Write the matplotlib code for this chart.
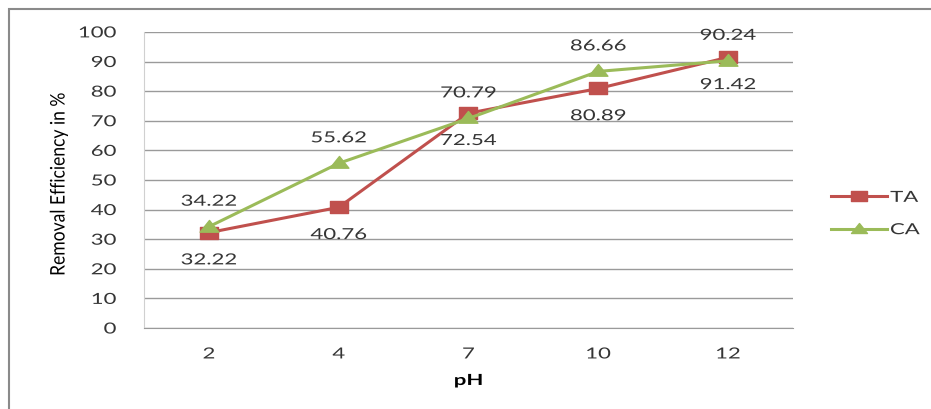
import matplotlib
matplotlib.use("Agg")
import matplotlib.pyplot as plt
from matplotlib.patches import Rectangle
from matplotlib.patheffects import AbstractPathEffect
from matplotlib.transforms import Affine2D
from matplotlib.path import Path

# Data
ph_levels = ["2", "4", "7", "10", "12"]
ta_values = [32.22, 40.76, 72.54, 80.89, 91.42]
ca_values = [34.22, 55.62, 70.79, 86.66, 90.24]
y_ticks = list(range(0, 101, 10))

TA_COLOR = "#C0504D"
CA_COLOR = "#9BBB59"
TEXT_COLOR = "#353535"
GRID_COLOR = "#9a9a9a"
FONT = ["Lato", "DejaVu Sans"]
SX = 1.45  # horizontal widening of text glyphs


class HStretch(AbstractPathEffect):
    """Widen text glyphs horizontally about a chosen anchor."""

    def __init__(self, sx, anchor="center"):
        super().__init__()
        self.sx = sx
        self.anchor = anchor

    def draw_path(self, renderer, gc, tpath, affine, rgbFace=None):
        bb = tpath.get_extents(affine)
        if self.anchor == "right":
            x0 = bb.x1
        elif self.anchor == "left":
            x0 = bb.x0
        else:
            x0 = 0.5 * (bb.x0 + bb.x1)
        t = affine + Affine2D().translate(-x0, 0).scale(self.sx, 1).translate(x0, 0)
        renderer.draw_path(gc, tpath, t, rgbFace)


def wide(anchor="center", sx=SX):
    return [HStretch(sx, anchor)]


# wide markers
square = Path([(-1, -0.62), (1, -0.62), (1, 0.62), (-1, 0.62), (-1, -0.62)],
              [Path.MOVETO, Path.LINETO, Path.LINETO, Path.LINETO, Path.CLOSEPOLY])
triangle = Path([(-1, -0.5), (1, -0.5), (0, 0.75), (-1, -0.5)],
                [Path.MOVETO, Path.LINETO, Path.LINETO, Path.CLOSEPOLY])

plt.rcParams["font.family"] = FONT

fig = plt.figure(figsize=(9.31, 4.09), dpi=100)
ax = fig.add_axes([0.1547, 0.198, 0.697, 0.724])

x = list(range(len(ph_levels)))
ax.plot(x, ta_values, color=TA_COLOR, lw=2.2, marker=square, ms=13.5,
        markerfacecolor=TA_COLOR, markeredgecolor=TA_COLOR, label="TA", zorder=3)
ax.plot(x, ca_values, color=CA_COLOR, lw=2.2, marker=triangle, ms=13.5,
        markerfacecolor=CA_COLOR, markeredgecolor=CA_COLOR, label="CA", zorder=4)

# value labels: TA below, CA above
for xi, v in zip(x, ta_values):
    ax.annotate(f"{v:.2f}", (xi, v), xytext=(0, -20), textcoords="offset points",
                ha="center", va="center", fontsize=11, color=TEXT_COLOR,
                path_effects=wide())
for xi, v in zip(x, ca_values):
    ax.annotate(f"{v:.2f}", (xi, v), xytext=(0, 18), textcoords="offset points",
                ha="center", va="center", fontsize=11, color=TEXT_COLOR,
                path_effects=wide())

ax.set_xlim(-0.5, len(ph_levels) - 0.5)
ax.set_ylim(0, 100)
ax.set_yticks(y_ticks)
ax.set_xticks(x)
ax.set_xticklabels(ph_levels)
ax.tick_params(axis="both", length=0, labelsize=11, labelcolor=TEXT_COLOR)
ax.tick_params(axis="y", pad=20)
ax.tick_params(axis="x", pad=14)
for lbl in ax.get_yticklabels():
    lbl.set_path_effects(wide("right"))
for lbl in ax.get_xticklabels():
    lbl.set_path_effects(wide())
ax.grid(axis="y", color=GRID_COLOR, lw=1)
ax.set_axisbelow(True)
for side in ["top", "right"]:
    ax.spines[side].set_visible(False)
ax.spines["left"].set_color("#d0d0d0")
ax.spines["bottom"].set_color(GRID_COLOR)

ax.set_ylabel("Removal Efficiency in %", fontsize=12.6, color="black",
              path_effects=wide(sx=1.15))
ax.yaxis.set_label_coords(-0.119, 0.486)
ax.set_xlabel("pH", fontsize=11, fontweight="bold", color="black", labelpad=9,
              path_effects=wide())

leg = ax.legend(loc="center left", bbox_to_anchor=(1.037, 0.385), frameon=False,
                fontsize=11, handlelength=3.7, labelspacing=1.2, handletextpad=0.2,
                labelcolor=TEXT_COLOR, markerscale=0.85)
for t in leg.get_texts():
    t.set_path_effects(wide("left"))

# outer chart border
fig.patches.append(Rectangle((9 / 931, -0.1), 1.2, (409 - 9) / 409 + 0.1,
                             transform=fig.transFigure, fill=False,
                             edgecolor="#8a8a8a", lw=1.5))

fig.savefig("out.png", dpi=100)
